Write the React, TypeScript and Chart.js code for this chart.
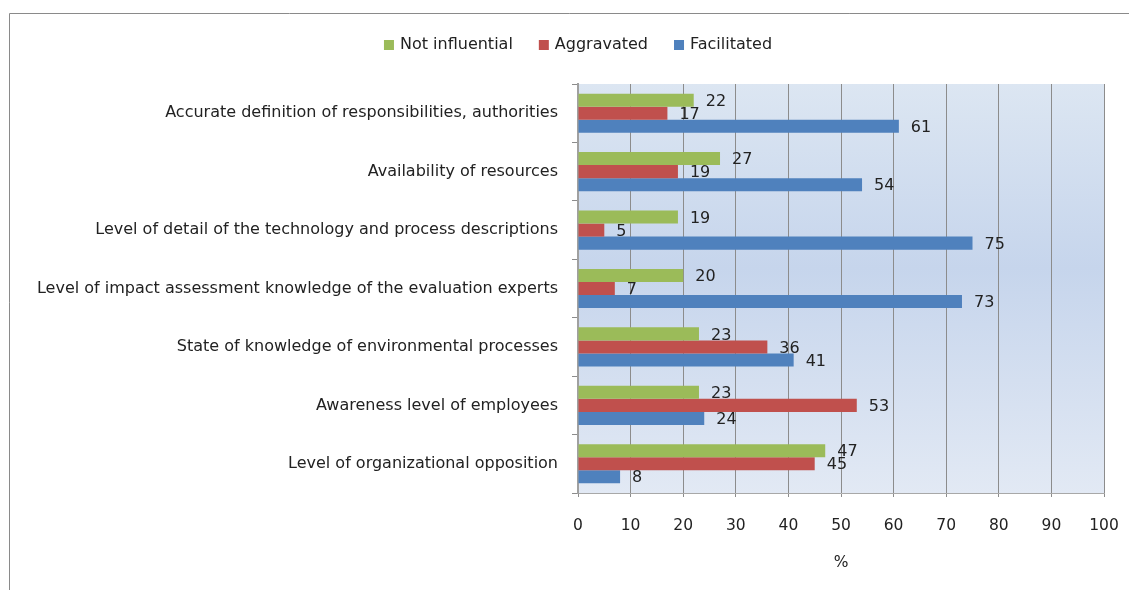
import React, { useEffect, useRef } from 'react';
import { Chart, registerables } from 'chart.js';

Chart.register(...registerables);

const categories = [
  'Accurate definition of responsibilities, authorities',
  'Availability of resources',
  'Level of detail of the technology and process descriptions',
  'Level of impact assessment knowledge of the evaluation experts',
  'State of knowledge of environmental processes',
  'Awareness level of employees',
  'Level of organizational opposition',
];
const notInfluential = [22, 27, 19, 20, 23, 23, 47];
const aggravated = [17, 19, 5, 7, 36, 53, 45];
const facilitated = [61, 54, 75, 73, 41, 24, 8];
const seriesNames = ['Not influential', 'Aggravated', 'Facilitated'];
const seriesColors = ['#9BBB59', '#C0504D', '#4F81BD'];
const axisTitle = '%';

const FONT = '"DejaVu Sans"';
const TEXT = '#222222';

const decorPlugin = {
  id: 'decor',
  beforeDraw(chart: any) {
    const { ctx, chartArea } = chart;
    ctx.save();
    ctx.fillStyle = '#ffffff';
    ctx.fillRect(0, 0, chart.width, chart.height);
    ctx.strokeStyle = '#8a8a8a';
    ctx.lineWidth = 1;
    ctx.beginPath();
    ctx.moveTo(9.5, chart.height + 5);
    ctx.lineTo(9.5, 13.5);
    ctx.lineTo(chart.width + 5, 13.5);
    ctx.stroke();
    const g = ctx.createLinearGradient(0, chartArea.top, 0, chartArea.bottom);
    g.addColorStop(0, '#dce6f2');
    g.addColorStop(0.45, '#c6d5ec');
    g.addColorStop(1, '#e2e9f4');
    ctx.fillStyle = g;
    ctx.fillRect(chartArea.left, chartArea.top, chartArea.right - chartArea.left, chartArea.bottom - chartArea.top);
    ctx.restore();
  },
  afterDatasetsDraw(chart: any) {
    const { ctx } = chart;
    ctx.save();
    ctx.font = `16px ${FONT}`;
    ctx.fillStyle = TEXT;
    ctx.textAlign = 'left';
    ctx.textBaseline = 'middle';
    chart.data.datasets.forEach((ds: any, i: number) => {
      const meta = chart.getDatasetMeta(i);
      meta.data.forEach((bar: any, j: number) => {
        ctx.fillText(String(ds.data[j]), bar.x + 12, bar.y + 1.5);
      });
    });
    ctx.restore();
  },
  afterDraw(chart: any) {
    const { ctx } = chart;
    ctx.save();
    ctx.font = `16px ${FONT}`;
    ctx.textBaseline = 'middle';
    ctx.textAlign = 'left';
    const box = 10, gapBox = 6, gapItem = 26;
    const widths = seriesNames.map((n) => ctx.measureText(n).width);
    const total = widths.reduce((a, w) => a + box + gapBox + w, 0) + gapItem * (seriesNames.length - 1);
    let x = 578 - total / 2;
    const y = 45;
    seriesNames.forEach((n, i) => {
      ctx.fillStyle = seriesColors[i];
      ctx.fillRect(x, y - box / 2, box, box);
      ctx.fillStyle = TEXT;
      ctx.fillText(n, x + box + gapBox, y);
      x += box + gapBox + widths[i] + gapItem;
    });
    ctx.restore();
  },
};

export default function App() {
  const ref = useRef<HTMLCanvasElement>(null);
  useEffect(() => {
    if (!ref.current) return;
    const chart = new Chart(ref.current, {
      type: 'bar',
      data: {
        labels: categories,
        datasets: [
          { label: seriesNames[0], data: notInfluential, backgroundColor: seriesColors[0] },
          { label: seriesNames[1], data: aggravated, backgroundColor: seriesColors[1] },
          { label: seriesNames[2], data: facilitated, backgroundColor: seriesColors[2] },
        ].map((d) => ({ ...d, barPercentage: 1, categoryPercentage: 0.67, borderWidth: 0 })),
      },
      options: {
        indexAxis: 'y',
        responsive: false,
        animation: false,
        layout: { padding: { top: 84, right: 25, bottom: 0, left: 0 } },
        plugins: { legend: { display: false }, tooltip: { enabled: false } },
        scales: {
          x: {
            min: 0,
            max: 100,
            ticks: { stepSize: 10, font: { family: FONT, size: 15.5 }, color: TEXT, padding: 20 },
            grid: { color: '#8c8c8c', lineWidth: 1, tickLength: 4 },
            border: { color: '#a8a8a8', width: 1 },
            title: { display: true, text: axisTitle, font: { family: FONT, size: 15.5 }, color: TEXT, padding: { top: 0, bottom: 18 } },
            afterFit: (s: any) => { s.height = 97; s.paddingLeft = 0; s.paddingRight = 0; },
          },
          y: {
            ticks: { font: { family: FONT, size: 16 }, color: TEXT, padding: 14 },
            grid: { drawOnChartArea: false, tickLength: 6, color: '#8c8c8c', offset: true },
            border: { color: '#a0a0a0', width: 2 },
            afterFit: (s: any) => { s.width = 578; s.paddingTop = 0; s.paddingBottom = 0; },
          },
        },
      },
      plugins: [decorPlugin],
    } as any);
    return () => chart.destroy();
  }, []);
  return (
    <div style={{ position: 'absolute', left: 0, top: 0, width: 1129, height: 590 }}>
      <canvas ref={ref} width={1129} height={590} />
    </div>
  );
}
